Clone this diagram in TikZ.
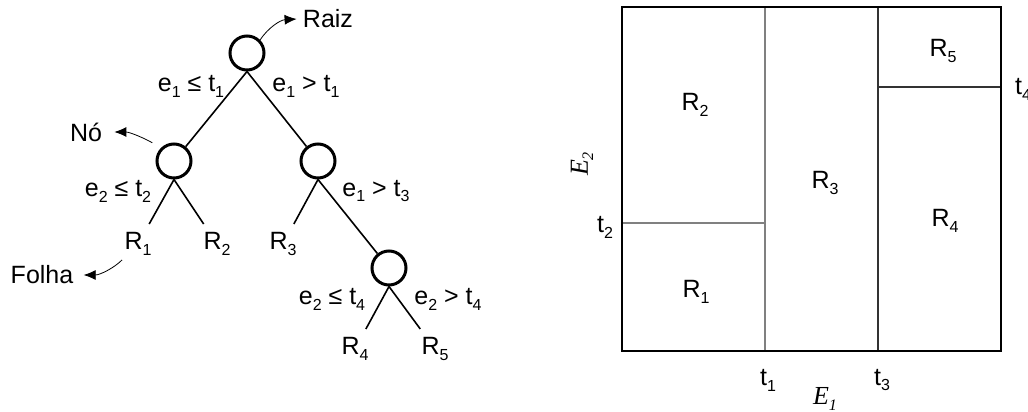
\documentclass[tikz,border=0pt]{standalone}
\usepackage{fontspec}
\usetikzlibrary{arrows.meta}
\setmainfont{Liberation Sans}
\newfontfamily\axisfont{Liberation Serif}
\newcommand{\ix}[1]{\raisebox{-0.45ex}{\fontsize{8}{9}\selectfont #1}}
\begin{document}
\begin{tikzpicture}[x=0.5pt,y=-0.5pt,>={Latex[length=6pt,width=5pt]},
  font=\fontsize{12.5}{14}\selectfont,
  split/.style={circle,draw,line width=1.5pt,minimum size=17pt,inner sep=0pt},
  leaf/.style={inner sep=4pt},
  cond/.style={inner sep=1pt},
  note/.style={inner sep=3pt},
  axis/.style={font=\axisfont\itshape\fontsize{13}{14}\selectfont}]
 \useasboundingbox (0,0) rectangle (1028,412);
 % tree
 \node[split] (root) at (247,53) {};
 \node[split] (n1) at (174,161) {};
 \node[split] (n2) at (318,161) {};
 \node[split] (n3) at (389,268) {};
 \node[leaf] (r1) at (138,244) {R\ix{1}};
 \node[leaf] (r2) at (217,244) {R\ix{2}};
 \node[leaf] (r3) at (283,244) {R\ix{3}};
 \node[leaf] (r4) at (355,349) {R\ix{4}};
 \node[leaf] (r5) at (435,349) {R\ix{5}};
 \draw[thick] (root.south) -- (n1);
 \draw[thick] (root.south) -- (n2);
 \draw[thick] (n1.south) -- (r1);
 \draw[thick] (n1.south) -- (r2);
 \draw[thick] (n2.south) -- (r3);
 \draw[thick] (n2.south) -- (n3);
 \draw[thick] (n3.south) -- (r4);
 \draw[thick] (n3.south) -- (r5);
 \node[cond] (c1) at (191,86) {e\ix{1} ≤ t\ix{1}};
 \node[cond] (c2) at (306,86) {e\ix{1} > t\ix{1}};
 \node[cond] (c3) at (118,191) {e\ix{2} ≤ t\ix{2}};
 \node[cond] (c4) at (376,191) {e\ix{1} > t\ix{3}};
 \node[cond] (c5) at (332,299) {e\ix{2} ≤ t\ix{4}};
 \node[cond] (c6) at (448,299) {e\ix{2} > t\ix{4}};
 % notes
 \node[note] (raiz) at (328,19) {Raiz};
 \node[note] (no) at (86,132) {Nó};
 \node[note] (folha) at (42,275) {Folha};
 \draw[->] (root.north east) .. controls (268,28) and (280,20) .. (raiz.west);
 \draw[->,shorten <=5pt,shorten >=3pt] (n1.north west) .. controls (146,139) and (130,132) .. (no.east);
 \draw[->,shorten >=2pt] ([xshift=-8pt,yshift=2pt]r1.south) .. controls (114,268) and (100,275) .. (folha.east);
 % partition
 \draw[gray,line width=0.6pt] (765,7) -- (765,351) (622,223) -- (765,223);
 \draw[black!80,line width=0.6pt] (878,7) -- (878,351) (878,87) -- (1001,87);
 \draw[line width=1pt] (622,7) rectangle (1001,351);
 \draw[line width=1.4pt] (622,351) -- (1001,351);
 \node (p1) at (696,292) {R\ix{1}};
 \node (p2) at (695,105) {R\ix{2}};
 \node (p3) at (825,183) {R\ix{3}};
 \node (p4) at (945,221) {R\ix{4}};
 \node (p5) at (943,51) {R\ix{5}};
 \node (t1) at (768,380) {t\ix{1}};
 \node (t3) at (882,380) {t\ix{3}};
 \node (t2) at (605,227) {t\ix{2}};
 \node (t4) at (1023,89) {t\ix{4}};
 \node[axis] (e1) at (825,399) {E\ix{1}};
 \node[axis,rotate=90] (e2) at (582,164) {E\ix{2}};
\end{tikzpicture}
\end{document}
